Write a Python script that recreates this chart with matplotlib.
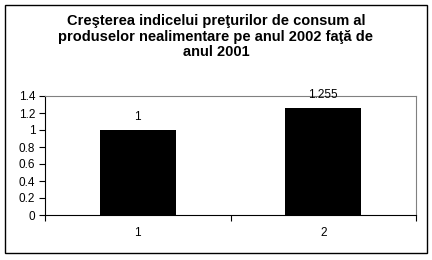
import matplotlib
matplotlib.use("Agg")
import matplotlib.pyplot as plt
from matplotlib.patches import Rectangle

categories = ["1", "2"]
values = [1.0, 1.255]
value_labels = ["1", "1.255"]
yticks = [0, 0.2, 0.4, 0.6, 0.8, 1.0, 1.2, 1.4]
ytick_labels = ["0", "0.2", "0.4", "0.6", "0.8", "1", "1.2", "1.4"]
title = "Creşterea indicelui preţurilor de consum al\nproduselor nealimentare pe anul 2002 faţă de\nanul 2001"

plt.rcParams['font.family'] = ['Liberation Sans', 'DejaVu Sans']

W, H = 432, 260
fig = plt.figure(figsize=(W/100, H/100), dpi=100)
fig.patch.set_facecolor('white')

# outer border
fig.patches.append(Rectangle((5/W, 1 - 253/H), 422/W, 248/H, transform=fig.transFigure,
                             fill=False, edgecolor='black', linewidth=1.0))

left, right, top, bottom = 45, 416, 96, 215
ax = fig.add_axes([left/W, 1 - bottom/H, (right-left)/W, (bottom-top)/H])

x = list(range(len(categories)))
ax.bar(x, values, width=0.41, color='black')
ax.set_xlim(-0.5, len(categories) - 0.5)
ax.set_ylim(0, 1.4)
ax.set_yticks(yticks)
ax.set_yticklabels(ytick_labels, fontsize=8.5)
ax.set_xticks([i - 0.5 for i in range(len(categories) + 1)])
ax.set_xticklabels([])
ax.set_xticks(x, minor=True)
ax.set_xticklabels(categories, minor=True, fontsize=8.5)
ax.tick_params(axis='x', which='minor', length=0, pad=9)
ax.tick_params(axis='x', which='major', length=4, width=0.8, direction='out')
ax.tick_params(axis='y', length=4, width=0.8, direction='out', pad=3)

for sp in ['top', 'right']:
    ax.spines[sp].set_color('#808080')
    ax.spines[sp].set_linewidth(0.8)
for sp in ['left', 'bottom']:
    ax.spines[sp].set_color('black')
    ax.spines[sp].set_linewidth(0.8)

for xi, v, lab in zip(x, values, value_labels):
    ax.annotate(lab, (xi, v), xytext=(0, 5), textcoords='offset points',
                ha='center', va='bottom', fontsize=8.5)

fig.text(0.5, 1 - 14/H, title, ha='center', va='top', fontsize=10.5, fontweight='bold',
         linespacing=1.15)

fig.savefig('out.png', dpi=100)
